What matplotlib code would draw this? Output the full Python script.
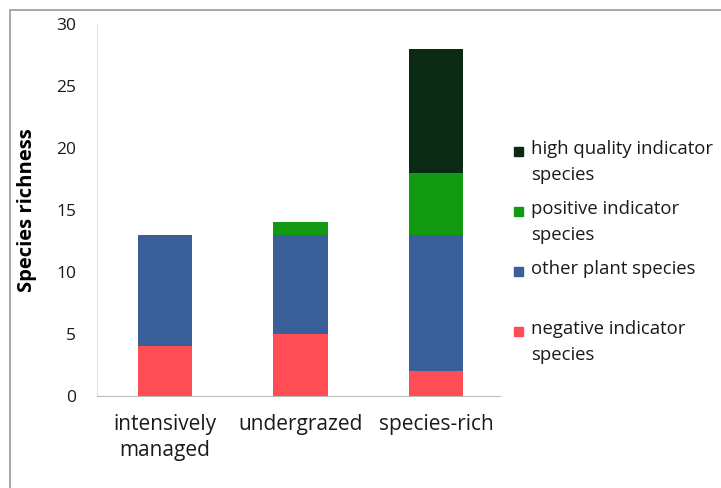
import matplotlib.pyplot as plt
from matplotlib.patches import Rectangle

plt.rcParams['font.family'] = ['Open Sans', 'DejaVu Sans']

# Data
sites = ["intensively\nmanaged", "undergrazed", "species-rich"]
negative = [4, 5, 2]
other = [9, 8, 11]
positive = [0, 1, 5]
high_quality = [0, 0, 10]

groups = ["high quality indicator\nspecies", "positive indicator\nspecies",
          "other plant species", "negative indicator\nspecies"]
colors = ["#0b2a14", "#129a12", "#3a5f98", "#ff4d55"]

fig = plt.figure(figsize=(7.21, 4.88), dpi=100)
ax = fig.add_axes([0.1345, 0.1885, 0.559, 0.7625])

x = range(len(sites))
w = 0.4
bottom = [0, 0, 0]
for vals, col in [(negative, colors[3]), (other, colors[2]),
                  (positive, colors[1]), (high_quality, colors[0])]:
    ax.bar(x, vals, w, bottom=bottom, color=col, edgecolor="none")
    bottom = [b + v for b, v in zip(bottom, vals)]

ax.set_xlim(-0.5, 2.47)
ax.set_ylim(0, 30)
ax.set_yticks(range(0, 31, 5))
ax.set_xticks(list(x))
ax.set_xticklabels(sites, fontsize=15, linespacing=1.3)
ax.tick_params(axis="y", length=0, pad=15, labelsize=12.5, colors="#1a1a1a")
ax.tick_params(axis="x", length=0, pad=13, colors="#1a1a1a")
ax.set_ylabel("Species richness", fontsize=14.5, fontweight="bold", labelpad=14)

for s in ["top", "right"]:
    ax.spines[s].set_visible(False)
ax.spines["left"].set_color("#e4e4e4")
ax.spines["bottom"].set_color("#bbbbbb")

# legend drawn by hand so the marker sits on the first text line
ly = [152, 212, 272, 332]
for lab, col, y in zip(groups, colors, ly):
    fig.patches.append(Rectangle((514 / 721, 1 - (y + 4) / 488), 9 / 721, 9 / 488,
                                 transform=fig.transFigure, color=col))
    fig.text(531 / 721, 1 - (y - 12) / 488, lab, fontsize=13.3, va="top",
             linespacing=1.55, color="#1a1a1a")

# outer frame (only the left and top edges fall inside the picture)
fig.patches.append(Rectangle((10 / 721, -0.05), 1.0, 1.05 - 10 / 488,
                             transform=fig.transFigure, fill=False,
                             edgecolor="#999999", lw=1.2))

fig.savefig("out.png", dpi=100)
